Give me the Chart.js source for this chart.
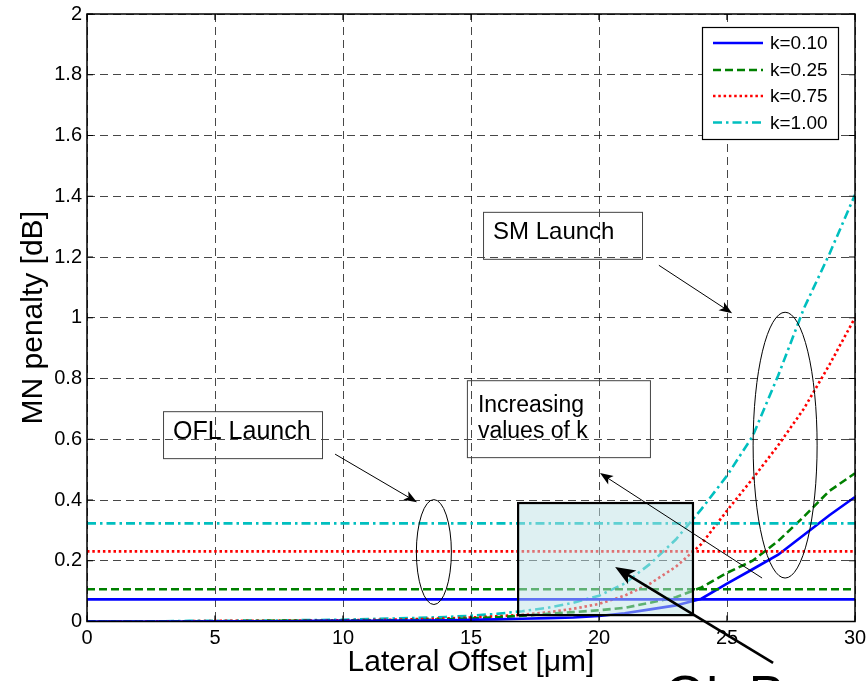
<!DOCTYPE html>
<html><head><meta charset="utf-8">
<script src="https://cdn.jsdelivr.net/npm/chart.js@4.4.1/dist/chart.umd.min.js"></script>
<style>html,body{margin:0;padding:0;background:#fff;overflow:hidden}canvas{display:block}</style>
</head><body>
<canvas id="c" width="866" height="681" style="width:866px;height:681px"></canvas>
<script>
// ---- data ----
const xOffsets = [0,1,2,3,4,5,6,7,8,9,10,11,12,13,14,15,16,17,18,19,20,21,22,23,24,25,26,27,28,29,30];
const smK010 = [0,0,0,0,0,0.001,0.001,0.001,0.001,0.002,0.002,0.002,0.003,0.003,0.004,0.006,0.007,0.009,0.011,0.013,0.018,0.027,0.040,0.053,0.075,0.125,0.172,0.220,0.285,0.350,0.410];
const smK025 = [0,0,0,0.001,0.001,0.001,0.001,0.002,0.002,0.002,0.003,0.003,0.004,0.005,0.007,0.010,0.014,0.019,0.025,0.031,0.037,0.045,0.062,0.080,0.112,0.160,0.200,0.265,0.345,0.430,0.488];
const smK075 = [0,0,0.001,0.001,0.001,0.002,0.002,0.002,0.003,0.003,0.004,0.005,0.006,0.008,0.010,0.013,0.017,0.022,0.030,0.042,0.058,0.085,0.125,0.180,0.255,0.365,0.470,0.580,0.700,0.845,1.000];
const smK100 = [0,0.001,0.001,0.001,0.002,0.002,0.003,0.003,0.004,0.005,0.006,0.008,0.010,0.012,0.015,0.019,0.025,0.034,0.045,0.062,0.085,0.125,0.190,0.270,0.370,0.480,0.610,0.810,1.030,1.210,1.405];
const oflPenalty = [0.073,0.106,0.231,0.323];
const kLabels = ['k=0.10','k=0.25','k=0.75','k=1.00'];
const xTitle = 'Lateral Offset [\u03bcm]';
const yTitle = 'MN penalty [dB]';

// ---- styles ----
const FONT = "'Liberation Sans', Arial, Helvetica, sans-serif";
const seriesStyle = [
  {color:'#0000ff', dash:[]},
  {color:'#008000', dash:[8,4]},
  {color:'#ff0000', dash:[2.5,2.8]},
  {color:'#00bfbf', dash:[9,4,2.5,4]}
];
const LINE_W = 2.6;
const smSeries = [smK010, smK025, smK075, smK100];
const datasets = [];
oflPenalty.forEach((v,i)=>{
  datasets.push({label:kLabels[i]+' OFL', data:[{x:xOffsets[0],y:v},{x:xOffsets[xOffsets.length-1],y:v}],
    borderColor:seriesStyle[i].color, borderDash:seriesStyle[i].dash, borderWidth:LINE_W, pointRadius:0, fill:false, tension:0});
});
smSeries.forEach((vals,i)=>{
  datasets.push({label:kLabels[i], data:xOffsets.map((x,j)=>({x:x,y:vals[j]})),
    borderColor:seriesStyle[i].color, borderDash:seriesStyle[i].dash, borderWidth:LINE_W, pointRadius:0, fill:false, tension:0});
});

// ---- annotations (in data units) ----
const textBoxes = [
  {x0:15.47,x1:21.68,y0:1.3487,y1:1.194, tx:15.86, lines:['SM Launch'], ty:[1.258], size:24},
  {x0:2.97,x1:9.18,y0:0.6924,y1:0.5378, tx:3.36, lines:['OFL Launch'], ty:[0.6003], size:25},
  {x0:14.84,x1:21.99,y0:0.7944,y1:0.5411, tx:15.27, lines:['Increasing','values of k'], ty:[0.6891,0.6036], size:23}
];
const ellipses = [
  {cx:13.55, cy:0.2286, rx:0.684, ry:0.1727},
  {cx:27.27, cy:0.5806, rx:1.25, ry:0.4375}
];
const arrows = [
  {x1:9.69,y1:0.551,x2:12.89,y2:0.393,w:1,hl:13,hw:5},
  {x1:22.34,y1:1.1727,x2:25.2,y2:1.0148,w:1,hl:13,hw:5},
  {x1:26.37,y1:0.1431,x2:20.04,y2:0.4885,w:1,hl:13,hw:5},
  {x1:26.8,y1:-0.1365,x2:20.63,y2:0.1793,w:2.6,hl:20,hw:8}
];
const shadedRegion = {x0:16.84,x1:23.67,y0:0.39,y1:0.021};

function drawArrow(ctx,x1,y1,x2,y2,w,hl,hw){
  const ang=Math.atan2(y2-y1,x2-x1);
  const c=Math.cos(ang), s=Math.sin(ang);
  const bx=x2-c*hl, by=y2-s*hl;
  ctx.lineWidth=w; ctx.strokeStyle='#000'; ctx.fillStyle='#000'; ctx.setLineDash([]);
  ctx.beginPath(); ctx.moveTo(x1,y1); ctx.lineTo(x2-c*hl*0.7,y2-s*hl*0.7); ctx.stroke();
  ctx.beginPath();
  ctx.moveTo(x2,y2);
  ctx.lineTo(bx - s*hw, by + c*hw);
  ctx.lineTo(x2-c*hl*0.75, y2-s*hl*0.75);
  ctx.lineTo(bx + s*hw, by - c*hw);
  ctx.closePath(); ctx.fill();
}

const overlay = {
  id:'overlay',
  afterDatasetsDraw(chart){
    const {ctx, chartArea:a, scales:{x:sx,y:sy}} = chart;
    const X=v=>sx.getPixelForValue(v), Y=v=>sy.getPixelForValue(v);
    ctx.save();
    // shaded region
    const r=shadedRegion;
    ctx.fillStyle='rgba(190,226,230,0.5)';
    ctx.fillRect(X(r.x0),Y(r.y0),X(r.x1)-X(r.x0),Y(r.y1)-Y(r.y0));
    ctx.lineWidth=2.2; ctx.strokeStyle='#000'; ctx.setLineDash([]);
    ctx.strokeRect(X(r.x0),Y(r.y0),X(r.x1)-X(r.x0),Y(r.y1)-Y(r.y0));
    // frame
    ctx.lineWidth=1.5; ctx.strokeStyle='#000';
    ctx.strokeRect(a.left,a.top,a.right-a.left,a.bottom-a.top);
    // inner ticks
    ctx.lineWidth=1.2;
    ctx.beginPath();
    sx.ticks.forEach(t=>{const p=X(t.value); ctx.moveTo(p,a.bottom); ctx.lineTo(p,a.bottom-6); ctx.moveTo(p,a.top); ctx.lineTo(p,a.top+6);});
    sy.ticks.forEach(t=>{const p=Y(t.value); ctx.moveTo(a.left,p); ctx.lineTo(a.left+6,p); ctx.moveTo(a.right,p); ctx.lineTo(a.right-6,p);});
    ctx.stroke();
    // ellipses
    ctx.lineWidth=1; ctx.strokeStyle='#000';
    ellipses.forEach(e=>{
      const cx=X(e.cx), cy=Y(e.cy), rx=Math.abs(X(e.cx+e.rx)-cx), ry=Math.abs(Y(e.cy+e.ry)-cy);
      ctx.beginPath(); ctx.ellipse(cx,cy,rx,ry,0,0,Math.PI*2); ctx.stroke();
    });
    // text boxes
    textBoxes.forEach(b=>{
      ctx.lineWidth=1; ctx.strokeStyle='#444';
      ctx.strokeRect(X(b.x0)+0.5,Y(b.y0)+0.5,X(b.x1)-X(b.x0),Y(b.y1)-Y(b.y0));
      ctx.fillStyle='#000'; ctx.font=b.size+'px '+FONT; ctx.textBaseline='alphabetic'; ctx.textAlign='left';
      b.lines.forEach((ln,i)=>ctx.fillText(ln,X(b.tx),Y(b.ty[i])));
    });
    // arrows
    arrows.forEach(ar=>drawArrow(ctx,X(ar.x1),Y(ar.y1),X(ar.x2),Y(ar.y2),ar.w,ar.hl,ar.hw));
    // legend
    const lw=136, lh=112, lx=a.right-153, ly=a.top+13;
    ctx.fillStyle='#fff'; ctx.fillRect(lx,ly,lw,lh);
    ctx.lineWidth=1.2; ctx.strokeStyle='#000'; ctx.setLineDash([]);
    ctx.strokeRect(lx+0.5,ly+0.5,lw,lh);
    const rows=[16,43,69,95.5];
    const smSets = chart.data.datasets.slice(oflPenalty.length);
    smSets.forEach((ds,i)=>{
      const yy=ly+rows[i];
      ctx.strokeStyle=ds.borderColor; ctx.lineWidth=LINE_W; ctx.setLineDash(ds.borderDash||[]);
      ctx.beginPath(); ctx.moveTo(lx+11,yy); ctx.lineTo(lx+61,yy); ctx.stroke();
      ctx.setLineDash([]);
      ctx.fillStyle='#000'; ctx.font='19px '+FONT; ctx.textBaseline='middle'; ctx.textAlign='left';
      ctx.fillText(ds.label,lx+68,yy+1);
    });
    // large cut-off caption below the axes
    ctx.fillStyle='#000'; ctx.font='52px '+FONT; ctx.textBaseline='alphabetic'; ctx.textAlign='left';
    ctx.fillText('OL P', X(22.58), a.bottom+90.5);
    ctx.restore();
  }
};

const tickFont = {family:FONT, size:20};
new Chart(document.getElementById('c'), {
  type:'line',
  data:{datasets:datasets},
  options:{
    responsive:false, animation:false, devicePixelRatio:1,
    layout:{padding:{top:14,right:11,left:0,bottom:0}},
    plugins:{legend:{display:false}, tooltip:{enabled:false}},
    scales:{
      x:{type:'linear', min:0, max:30,
        ticks:{stepSize:5, padding:5, color:'#000', font:tickFont, maxRotation:0, autoSkip:false},
        grid:{color:'rgba(0,0,0,0.72)', lineWidth:1, drawTicks:false},
        border:{display:false, dash:[8,5]},
        title:{display:true, text:xTitle, color:'#000', font:{family:FONT,size:30}, padding:{top:0,bottom:0}},
        afterFit(s){ s.height=59.5; s.paddingLeft=0; s.paddingRight=0; }
      },
      y:{type:'linear', min:0, max:2,
        ticks:{stepSize:0.2, padding:5, color:'#000', font:tickFont, callback:v=>String(Math.round(v*10)/10)},
        grid:{color:'rgba(0,0,0,0.72)', lineWidth:1, drawTicks:false},
        border:{display:false, dash:[8,5]},
        title:{display:true, text:yTitle, color:'#000', font:{family:FONT,size:30}, padding:{top:16,bottom:0}},
        afterFit(s){ s.width=87; s.paddingTop=0; s.paddingBottom=0; }
      }
    }
  },
  plugins:[overlay]
});
</script>
</body></html>
